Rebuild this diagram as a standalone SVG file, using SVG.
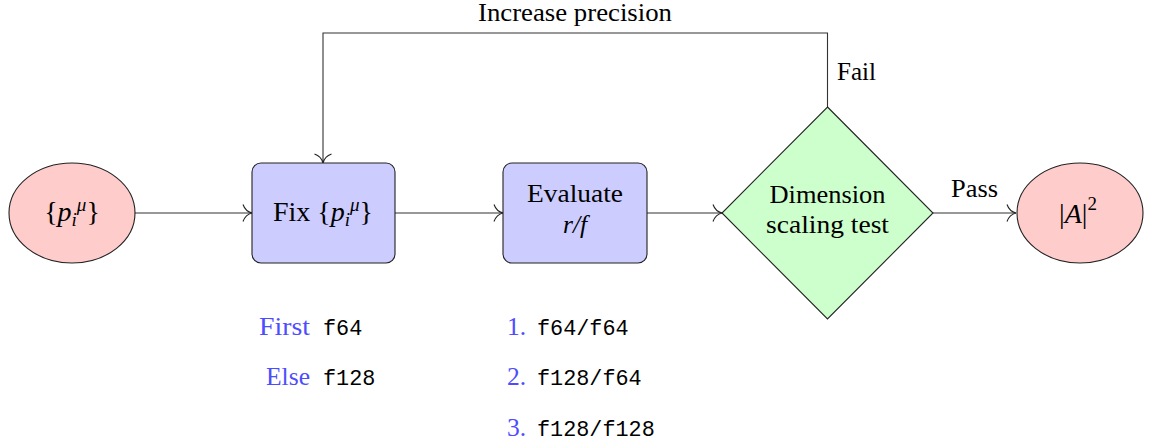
<svg xmlns="http://www.w3.org/2000/svg" width="1154" height="448" viewBox="0 0 1154 448">
<defs>
<style>
.t{font-family:"Liberation Serif","DejaVu Serif",serif;font-size:25.5px;fill:#000}
.mt{font-family:"Liberation Serif","DejaVu Serif",serif;font-size:28px;fill:#000}
.m{font-family:"Liberation Mono","DejaVu Sans Mono",monospace;font-size:21.8px;fill:#000}
.b{fill:#4d4dff}
.i{font-style:italic}
.edge{fill:none;stroke:#333;stroke-width:1.1}
.node{stroke:#222;stroke-width:1.1}
</style>
<marker id="to" viewBox="-10 -10 12 20" markerWidth="12" markerHeight="20" refX="0" refY="0" orient="auto" markerUnits="userSpaceOnUse">
<path d="M -9,-8.5 C -7,-3 -2.5,-0.6 0,0 C -2.5,0.6 -7,3 -9,8.5" fill="none" stroke="#222" stroke-width="1.1"/>
</marker>
</defs>
<rect width="1154" height="448" fill="#fff"/>
<g id="connectors">
<line class="edge" x1="135" y1="213" x2="252" y2="213" marker-end="url(#to)"/>
<line class="edge" x1="395" y1="213" x2="503" y2="213" marker-end="url(#to)"/>
<line class="edge" x1="647" y1="213" x2="722" y2="213" marker-end="url(#to)"/>
<line class="edge" x1="933" y1="213" x2="1016" y2="213" marker-end="url(#to)"/>
<polyline class="edge" points="827.5,107 827.5,33 323,33 323,163" marker-end="url(#to)"/>
<text class="t" x="575" y="21" text-anchor="middle" textLength="194" lengthAdjust="spacingAndGlyphs">Increase precision</text>
<text class="t" x="837" y="80" textLength="39" lengthAdjust="spacingAndGlyphs">Fail</text>
<text class="t" x="951" y="197" textLength="47" lengthAdjust="spacingAndGlyphs">Pass</text>
</g>
<g id="start">
<ellipse class="node" cx="72" cy="213" rx="63" ry="50" fill="#ffcccc"/>
<text class="mt" x="72" y="221" text-anchor="middle">{<tspan class="i">p</tspan><tspan class="i" font-size="19" dy="5">i</tspan><tspan class="i" font-size="19" dy="-15">μ</tspan><tspan dy="10">}</tspan></text>
</g>
<g id="fix">
<rect class="node" x="252" y="163" width="143" height="100" rx="9" fill="#ccccff"/>
<text class="mt" x="323" y="221" text-anchor="middle">Fix {<tspan class="i">p</tspan><tspan class="i" font-size="19" dy="5">i</tspan><tspan class="i" font-size="19" dy="-15">μ</tspan><tspan dy="10">}</tspan></text>
</g>
<g id="evaluate">
<rect class="node" x="503" y="163" width="144" height="100" rx="9" fill="#ccccff"/>
<text class="t" x="575" y="202" text-anchor="middle" textLength="96" lengthAdjust="spacingAndGlyphs">Evaluate</text>
<text class="t i" x="575" y="233" text-anchor="middle" font-size="26">r/f</text>
</g>
<g id="test">
<polygon class="node" points="827.5,107 933,213 827.5,319 722,213" fill="#ccffcc"/>
<text class="t" x="827.5" y="203" text-anchor="middle" textLength="116" lengthAdjust="spacingAndGlyphs">Dimension</text>
<text class="t" x="827.5" y="233" text-anchor="middle" textLength="123" lengthAdjust="spacingAndGlyphs">scaling test</text>
</g>
<g id="result">
<ellipse class="node" cx="1080" cy="213" rx="63" ry="50" fill="#ffcccc"/>
<text class="mt" x="1078" y="223" text-anchor="middle">|<tspan class="i">A</tspan>|<tspan font-size="19" dy="-13">2</tspan></text>
</g>
<g id="notes">
<text class="t b" x="310" y="335" text-anchor="end" textLength="51" lengthAdjust="spacingAndGlyphs">First</text>
<text class="m" x="323" y="335">f64</text>
<text class="t b" x="310" y="385" text-anchor="end" textLength="44" lengthAdjust="spacingAndGlyphs">Else</text>
<text class="m" x="323" y="385">f128</text>
<text class="t b" x="507" y="335">1.</text>
<text class="m" x="537" y="335">f64/f64</text>
<text class="t b" x="507" y="385">2.</text>
<text class="m" x="537" y="385">f128/f64</text>
<text class="t b" x="507" y="436">3.</text>
<text class="m" x="537" y="436">f128/f128</text>
</g>
</svg>
